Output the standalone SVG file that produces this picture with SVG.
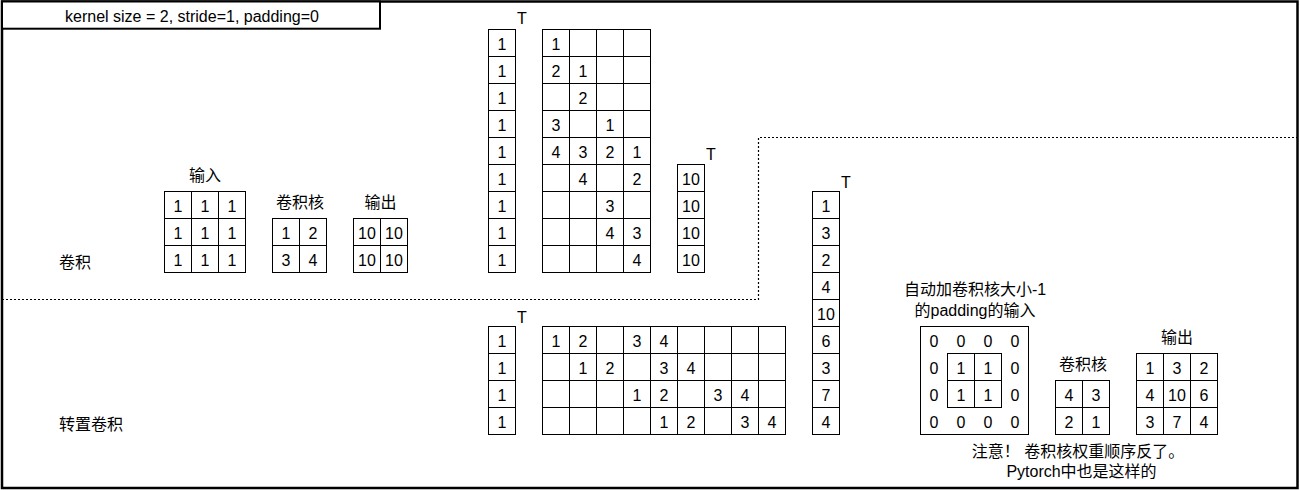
<svg xmlns="http://www.w3.org/2000/svg" width="1300" height="490" viewBox="0 0 1300 490">
<style>
text{font-family:"Liberation Sans","Noto Sans CJK SC",sans-serif;font-size:16px;fill:#000;}
.c text{text-anchor:middle;}
.m{text-anchor:middle;}
.g{fill:#fff;stroke:#000;stroke-width:1;}
.l{fill:none;stroke:#000;stroke-width:1;}
</style>
<rect x="0" y="0" width="1300" height="490" fill="#fff"/>
<g id="frame">
<rect x="2" y="1.5" width="1295.5" height="486.5" fill="none" stroke="#000" stroke-width="2.5"/>
</g>
<g id="title">
<rect x="2" y="1.5" width="378" height="27.2" fill="#fff" stroke="#000" stroke-width="2"/>
<text class="m" x="192" y="21.5">kernel size = 2, stride=1, padding=0</text>
</g>
<g id="connectors">
<path d="M2 299.5 H758.5 V137.5 H1297" fill="none" stroke="#000" stroke-width="1.2" stroke-dasharray="2 2"/>
</g>
<g id="label-conv"><text class="m" x="75" y="267.5">卷积</text></g>
<g id="label-tconv"><text class="m" x="91" y="430">转置卷积</text></g>

<g id="conv-input" class="c">
<text x="205" y="181">输入</text>
<rect class="g" x="164.5" y="191.5" width="81" height="81"/>
<path class="l" d="M191.5 191.5V272.5M218.5 191.5V272.5M164.5 218.5H245.5M164.5 245.5H245.5"/>
<text x="178" y="212">1</text><text x="205" y="212">1</text><text x="232" y="212">1</text>
<text x="178" y="239">1</text><text x="205" y="239">1</text><text x="232" y="239">1</text>
<text x="178" y="266">1</text><text x="205" y="266">1</text><text x="232" y="266">1</text>
</g>
<g id="conv-kernel" class="c">
<text x="300" y="208">卷积核</text>
<rect class="g" x="272.5" y="218.5" width="54" height="54"/>
<path class="l" d="M299.5 218.5V272.5M272.5 245.5H326.5"/>
<text x="286" y="239">1</text><text x="313" y="239">2</text>
<text x="286" y="266">3</text><text x="313" y="266">4</text>
</g>
<g id="conv-output" class="c">
<text x="380.5" y="208">输出</text>
<rect class="g" x="353.5" y="218.5" width="54" height="54"/>
<path class="l" d="M380.5 218.5V272.5M353.5 245.5H407.5"/>
<text x="367" y="239">10</text><text x="394" y="239">10</text>
<text x="367" y="266">10</text><text x="394" y="266">10</text>
</g>

<g id="conv-vec-input" class="c">
<text x="522" y="24">T</text>
<rect class="g" x="488.5" y="29.5" width="27" height="243"/>
<path class="l" d="M488.5 56.5H515.5M488.5 83.5H515.5M488.5 110.5H515.5M488.5 137.5H515.5M488.5 164.5H515.5M488.5 191.5H515.5M488.5 218.5H515.5M488.5 245.5H515.5"/>
<text x="502" y="50">1</text><text x="502" y="77">1</text><text x="502" y="104">1</text>
<text x="502" y="131">1</text><text x="502" y="158">1</text><text x="502" y="185">1</text>
<text x="502" y="212">1</text><text x="502" y="239">1</text><text x="502" y="266">1</text>
</g>
<g id="conv-matrix" class="c">
<rect class="g" x="542.5" y="29.5" width="108" height="243"/>
<path class="l" d="M569.5 29.5V272.5M596.5 29.5V272.5M623.5 29.5V272.5M542.5 56.5H650.5M542.5 83.5H650.5M542.5 110.5H650.5M542.5 137.5H650.5M542.5 164.5H650.5M542.5 191.5H650.5M542.5 218.5H650.5M542.5 245.5H650.5"/>
<text x="556" y="50">1</text>
<text x="556" y="77">2</text><text x="583" y="77">1</text>
<text x="583" y="104">2</text>
<text x="556" y="131">3</text><text x="610" y="131">1</text>
<text x="556" y="158">4</text><text x="583" y="158">3</text><text x="610" y="158">2</text><text x="637" y="158">1</text>
<text x="583" y="185">4</text><text x="637" y="185">2</text>
<text x="610" y="212">3</text>
<text x="610" y="239">4</text><text x="637" y="239">3</text>
<text x="637" y="266">4</text>
</g>
<g id="conv-vec-output" class="c">
<text x="711" y="160">T</text>
<rect class="g" x="677.5" y="164.5" width="27" height="108"/>
<path class="l" d="M677.5 191.5H704.5M677.5 218.5H704.5M677.5 245.5H704.5"/>
<text x="691" y="185">10</text><text x="691" y="212">10</text><text x="691" y="239">10</text><text x="691" y="266">10</text>
</g>

<g id="tconv-vec-input" class="c">
<text x="522" y="323">T</text>
<rect class="g" x="488.5" y="326.5" width="27" height="108"/>
<path class="l" d="M488.5 353.5H515.5M488.5 380.5H515.5M488.5 407.5H515.5"/>
<text x="502" y="347">1</text><text x="502" y="374">1</text><text x="502" y="401">1</text><text x="502" y="428">1</text>
</g>
<g id="tconv-matrix" class="c">
<rect class="g" x="542.5" y="326.5" width="243" height="108"/>
<path class="l" d="M569.5 326.5V434.5M596.5 326.5V434.5M623.5 326.5V434.5M650.5 326.5V434.5M677.5 326.5V434.5M704.5 326.5V434.5M731.5 326.5V434.5M758.5 326.5V434.5M542.5 353.5H785.5M542.5 380.5H785.5M542.5 407.5H785.5"/>
<text x="556" y="347">1</text><text x="583" y="347">2</text><text x="637" y="347">3</text><text x="664" y="347">4</text>
<text x="583" y="374">1</text><text x="610" y="374">2</text><text x="664" y="374">3</text><text x="691" y="374">4</text>
<text x="637" y="401">1</text><text x="664" y="401">2</text><text x="718" y="401">3</text><text x="745" y="401">4</text>
<text x="664" y="428">1</text><text x="691" y="428">2</text><text x="745" y="428">3</text><text x="772" y="428">4</text>
</g>
<g id="tconv-vec-output" class="c">
<text x="846" y="188">T</text>
<rect class="g" x="812.5" y="191.5" width="27" height="243"/>
<path class="l" d="M812.5 218.5H839.5M812.5 245.5H839.5M812.5 272.5H839.5M812.5 299.5H839.5M812.5 326.5H839.5M812.5 353.5H839.5M812.5 380.5H839.5M812.5 407.5H839.5"/>
<text x="826" y="212">1</text><text x="826" y="239">3</text><text x="826" y="266">2</text>
<text x="826" y="293">4</text><text x="826" y="320">10</text><text x="826" y="347">6</text>
<text x="826" y="374">3</text><text x="826" y="401">7</text><text x="826" y="428">4</text>
</g>

<g id="padded-input" class="c">
<text x="975" y="295">自动加卷积核大小-1</text>
<text x="975" y="315.5">的padding的输入</text>
<rect class="g" x="920.5" y="326.5" width="108" height="108"/>
<rect class="g" x="947.5" y="353.5" width="54" height="54"/>
<path class="l" d="M974.5 353.5V407.5M947.5 380.5H1001.5"/>
<text x="934" y="347">0</text><text x="961" y="347">0</text><text x="988" y="347">0</text><text x="1015" y="347">0</text>
<text x="934" y="374">0</text><text x="961" y="374">1</text><text x="988" y="374">1</text><text x="1015" y="374">0</text>
<text x="934" y="401">0</text><text x="961" y="401">1</text><text x="988" y="401">1</text><text x="1015" y="401">0</text>
<text x="934" y="428">0</text><text x="961" y="428">0</text><text x="988" y="428">0</text><text x="1015" y="428">0</text>
</g>
<g id="flipped-kernel" class="c">
<text x="1083" y="370">卷积核</text>
<rect class="g" x="1055.5" y="380.5" width="54" height="54"/>
<path class="l" d="M1082.5 380.5V434.5M1055.5 407.5H1109.5"/>
<text x="1069" y="401">4</text><text x="1096" y="401">3</text>
<text x="1069" y="428">2</text><text x="1096" y="428">1</text>
</g>
<g id="tconv-output" class="c">
<text x="1177" y="343">输出</text>
<rect class="g" x="1136.5" y="353.5" width="81" height="81"/>
<path class="l" d="M1163.5 353.5V434.5M1190.5 353.5V434.5M1136.5 380.5H1217.5M1136.5 407.5H1217.5"/>
<text x="1150" y="374">1</text><text x="1177" y="374">3</text><text x="1204" y="374">2</text>
<text x="1150" y="401">4</text><text x="1177" y="401">10</text><text x="1204" y="401">6</text>
<text x="1150" y="428">3</text><text x="1177" y="428">7</text><text x="1204" y="428">4</text>
</g>
<g id="note" class="c">
<text x="1078" y="456.5">注意！ 卷积核权重顺序反了。</text>
<text x="1081.5" y="476.5">Pytorch中也是这样的</text>
</g>
</svg>
